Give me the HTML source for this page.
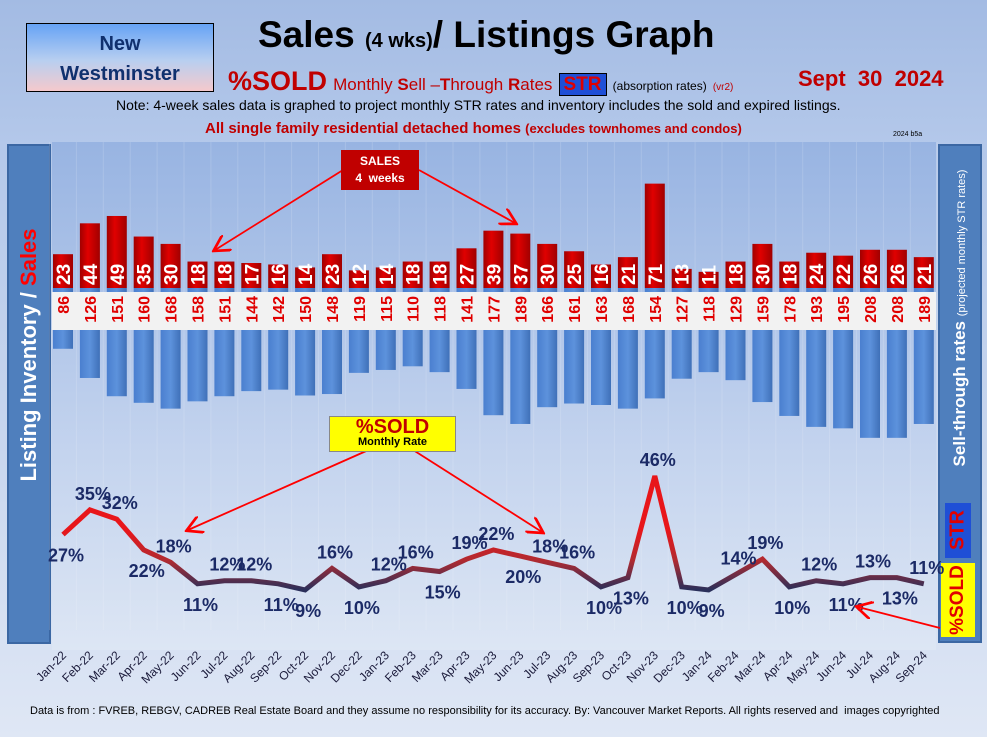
<!DOCTYPE html>
<html><head><meta charset="utf-8"><style>
body{margin:0;width:987px;height:737px;overflow:hidden;font-family:"Liberation Sans",Arial,sans-serif;}
#root{position:relative;width:987px;height:737px;background:linear-gradient(#a3bbe3 0%,#b4c8ea 20%,#c8d6ee 60%,#dfe7f5 100%);}
.abs{position:absolute;}
</style></head><body><div id="root">
<div class="abs" style="left:26px;top:23px;width:188px;height:69px;border:1px solid #000;background:linear-gradient(#66a3f5,#b9cff0 55%,#f5c9cc);text-align:center;color:#10306e;font:bold 20px 'Liberation Sans',sans-serif;line-height:30px;padding-top:5px;box-sizing:border-box">New<br>Westminster</div>
<div class="abs" style="left:258px;top:14px;font:bold 37px 'Liberation Sans',sans-serif;color:#000">Sales <span style="font-size:20px">(4 wks)</span>/ Listings Graph</div>
<div class="abs" style="left:228px;top:66px;color:#c00000;font:22px 'Liberation Sans',sans-serif;white-space:nowrap"><b style="font-size:27px">%SOLD</b> <span style="font-size:17px">Monthly <b>S</b>ell –<b>T</b>hrough <b>R</b>ates</span> <b style="background:#1f4fd6;color:#e00000;padding:0 4px;border:1px solid #000;font-size:19px">STR</b> <span style="color:#000;font-size:12px">(absorption rates)</span> <span style="font-size:10px">(vr2)</span></div>
<div class="abs" style="left:798px;top:66px;color:#c00000;font:bold 22px 'Liberation Sans',sans-serif">Sept &nbsp;30 &nbsp;2024</div>
<div class="abs" style="left:116px;top:97px;font:14px 'Liberation Sans',sans-serif;color:#000;white-space:nowrap">Note: 4-week sales data is graphed to project monthly STR rates and inventory includes the sold and expired listings.</div>
<div class="abs" style="left:205px;top:120px;font:bold 15px 'Liberation Sans',sans-serif;color:#c00000;white-space:nowrap">All single family residential detached homes <span style="font-size:13px">(excludes townhomes and condos)</span></div>
<div class="abs" style="left:893px;top:131px;font:7px 'Liberation Sans',sans-serif">2024 b5a</div>
<div class="abs" style="left:52px;top:142px;width:884px;height:508px;background:linear-gradient(#98b4e2,#c3d3ee 60%,#dde6f4)"></div>
<div class="abs" style="left:7px;top:144px;width:44px;height:500px;background:#4f7fbd;border:2px solid #3b67a3;box-sizing:border-box"></div>
<div class="abs" style="left:29px;top:355px;transform:translate(-50%,-50%) rotate(-90deg);white-space:nowrap;font:bold 22px 'Liberation Sans',sans-serif;color:#fff">Listing Inventory / <span style="color:#f00">Sales</span></div>
<div class="abs" style="left:938px;top:144px;width:44px;height:499px;background:#4f7fbd;border:2px solid #3b67a3;box-sizing:border-box"></div>
<div class="abs" style="left:960px;top:318px;transform:translate(-50%,-50%) rotate(-90deg);white-space:nowrap;font:bold 17px 'Liberation Sans',sans-serif;color:#fff">Sell-through rates <span style="font-size:11px;font-weight:normal">(projected monthly STR rates)</span></div>
<div class="abs" style="left:945px;top:503px;width:26px;height:55px;background:#1f4fd6"><div style="position:absolute;left:13px;top:27px;transform:translate(-50%,-50%) rotate(-90deg);font:bold 20px 'Liberation Sans',sans-serif;color:#e00000">STR</div></div>
<div class="abs" style="left:941px;top:563px;width:34px;height:74px;background:#ffff00"><div style="position:absolute;left:17px;top:37px;transform:translate(-50%,-50%) rotate(-90deg);font:bold 19px 'Liberation Sans',sans-serif;color:#e00000;white-space:nowrap">%SOLD</div></div>
<svg class="abs" style="left:0;top:0" width="987" height="737" id="svg">
<defs>
<linearGradient id="lg" gradientUnits="userSpaceOnUse" x1="0" y1="530" x2="0" y2="590"><stop offset="0" stop-color="#e8161a"/><stop offset="0.5" stop-color="#b22a30"/><stop offset="1" stop-color="#2a2f5a"/></linearGradient>
<linearGradient id="rb" x1="0" x2="1"><stop offset="0" stop-color="#a00000"/><stop offset="0.4" stop-color="#e00000"/><stop offset="1" stop-color="#a00000"/></linearGradient>
<linearGradient id="bb" x1="0" x2="1"><stop offset="0" stop-color="#4a7fcf"/><stop offset="0.5" stop-color="#5d92dc"/><stop offset="1" stop-color="#3f70b8"/></linearGradient>
<marker id="ah" markerWidth="10" markerHeight="10" refX="8" refY="5" orient="auto"><path d="M0,0 L9,5 L0,10" fill="none" stroke="#f00" stroke-width="1.5"/></marker>
</defs>
<g id="grid"></g>
<g id="marks"></g>
<g id="ann"></g>
</svg>
<div class="abs" style="left:341px;top:150px;width:78px;height:40px;background:#c00000;color:#fff;font:bold 12px 'Liberation Sans',sans-serif;text-align:center;line-height:17px;padding-top:3px;box-sizing:border-box">SALES<br>4 &nbsp;weeks</div>
<div class="abs" style="left:329px;top:416px;width:125px;height:34px;background:#ffff00;border:1px solid #888;color:#c00000;text-align:center;font:bold 20px 'Liberation Sans',sans-serif;line-height:20px">%SOLD<div style="font-size:11px;color:#000;line-height:11px">Monthly Rate</div></div>
<div class="abs" style="left:30px;top:705px;font:11px 'Liberation Sans',sans-serif;color:#000;white-space:nowrap">Data is from : FVREB, REBGV, CADREB Real Estate Board and they assume no responsibility for its accuracy. By: Vancouver Market Reports. All rights reserved and &nbsp;images copyrighted</div>
</div>
<script>
const months=["Jan-22","Feb-22","Mar-22","Apr-22","May-22","Jun-22","Jul-22","Aug-22","Sep-22","Oct-22","Nov-22","Dec-22","Jan-23","Feb-23","Mar-23","Apr-23","May-23","Jun-23","Jul-23","Aug-23","Sep-23","Oct-23","Nov-23","Dec-23","Jan-24","Feb-24","Mar-24","Apr-24","May-24","Jun-24","Jul-24","Aug-24","Sep-24"];
const sales=[23,44,49,35,30,18,18,17,16,14,23,12,14,18,18,27,39,37,30,25,16,21,71,13,11,18,30,18,24,22,26,26,21];
const listings=[86,126,151,160,168,158,151,144,142,150,148,119,115,110,118,141,177,189,166,161,163,168,154,127,118,129,159,178,193,195,208,208,189];
const soldPct=[27,35,32,22,18,11,12,12,11,9,16,10,12,16,15,19,22,20,18,16,10,13,46,10,9,14,19,10,12,11,13,13,11];
const labelSide=[-1,1,1,-1,1,-1,1,1,-1,-1,1,-1,1,1,-1,1,1,-1,1,1,-1,-1,1,-1,-1,1,1,-1,1,-1,1,-1,1];
const NS="http://www.w3.org/2000/svg";
const xC=i=>63+i*26.9;
const ySales=v=>288-v*1.47;
const yList=v=>288+Math.max(0,v*0.73-2);
const yPct=v=>617.7-v*3.08;
const marks=document.getElementById('marks'),grid=document.getElementById('grid');
function mk(tag,attrs,parent){const e=document.createElementNS(NS,tag);for(const k in attrs)e.setAttribute(k,attrs[k]);parent.appendChild(e);return e;}
for(let i=0;i<=33;i++){const l=mk('line',{x1:xC(i)-13.5,x2:xC(i)-13.5,y1:142,y2:630,stroke:'#ffffff',"stroke-opacity":0.15},grid);

}
months.forEach((m,i)=>{
const x=xC(i);
const b=mk('rect',{x:x-10,y:ySales(sales[i]),width:20,height:288-ySales(sales[i]),fill:'url(#rb)'},marks);


const lb=mk('rect',{x:x-10,y:288,width:20,height:yList(listings[i])-288,fill:'url(#bb)'},marks);


});
const band=mk('rect',{x:52,y:292,width:884,height:38,fill:'#f2f2f2'},marks);


months.forEach((m,i)=>{
const x=xC(i);
const st=mk('text',{x:0,y:0,transform:`translate(${x+7},${285}) rotate(-90)`,"text-anchor":"start",fill:'#fff',"font-size":19,"font-weight":"bold","font-family":"Liberation Sans, sans-serif"},marks);
st.textContent=sales[i];


const lt=mk('text',{x:0,y:0,transform:`translate(${x+6},${296}) rotate(-90)`,"text-anchor":"end",fill:'#e00000',"font-size":16,"font-weight":"bold","font-family":"Liberation Sans, sans-serif"},marks);
lt.textContent=listings[i];


const xl=mk('text',{x:0,y:0,transform:`translate(${x+4},${656}) rotate(-45)`,"text-anchor":"end",fill:'#1a1a3a',"font-size":12,"font-family":"Liberation Sans, sans-serif"},marks);
xl.textContent=m;


});
const d=soldPct.map((v,i)=>(i?'L':'M')+xC(i)+','+yPct(v)).join(' ');
const line=mk('path',{d:d,fill:'none',stroke:'url(#lg)',"stroke-width":5,"stroke-linejoin":"miter"},marks);


soldPct.forEach((v,i)=>{
const y=yPct(v)+(labelSide[i]>0?-10:27);
const t=mk('text',{x:xC(i)+3,y:y,"text-anchor":"middle",fill:'#1b2a66',"font-size":18,"font-weight":"bold","font-family":"Liberation Sans, sans-serif"},marks);
t.textContent=v+'%';


});
const ann=document.getElementById('ann');
[[343,170,215,250],[419,170,515,223],[373,448,188,530],[410,448,542,532],[940,628,858,607]].forEach(a=>{
const l=mk('line',{x1:a[0],y1:a[1],x2:a[2],y2:a[3],stroke:'#f00',"stroke-width":1.8,"marker-end":'url(#ah)'},ann);


});
</script>
</body></html>
